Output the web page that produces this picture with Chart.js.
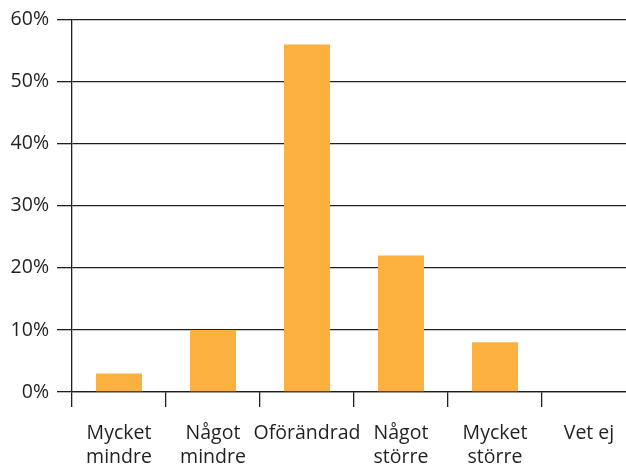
<!DOCTYPE html>
<html><head><meta charset="utf-8">
<script src="https://cdn.jsdelivr.net/npm/chart.js@4/dist/chart.umd.min.js"></script>
<style>
html,body{margin:0;padding:0;overflow:hidden;background:#fff;width:626px;height:464px}
#wrap{position:absolute;left:0;top:0;width:640px;height:464px}
</style></head>
<body><div id="wrap"><canvas id="c" width="640" height="464"></canvas></div>
<script>
const categories = [["Mycket","mindre"],["Något","mindre"],["Oförändrad"],["Något","större"],["Mycket","större"],["Vet ej"]];
const values = [3, 10, 56, 22, 8, 0];
const yTicks = [0, 10, 20, 30, 40, 50, 60];
const INK = '#231f20';
const XFONT = {family: "'Open Sans', 'Noto Sans', sans-serif", size: 19.5, lineHeight: 1.22};
const YFONT = {family: "'Open Sans', 'Noto Sans', sans-serif", size: 19.5};

new Chart(document.getElementById('c'), {
  type: 'bar',
  data: {labels: categories, datasets: [{data: values, backgroundColor: '#fbb040', borderWidth: 0, categoryPercentage: 1, barPercentage: 0.49}]},
  options: {
    responsive: false, animation: false,
    layout: {padding: {top: 18, right: 4, left: 0, bottom: 0}},
    plugins: {legend: {display: false}, tooltip: {enabled: false}},
    scales: {
      x: {
        grid: {offset: true, drawOnChartArea: false, color: INK, lineWidth: 1.3, tickLength: 15},
        border: {display: true, color: INK, width: 1.3},
        ticks: {color: INK, font: XFONT, padding: 15, maxRotation: 0, autoSkip: false},
        afterFit: s => { s.height = 72; }
      },
      y: {
        min: 0, max: 60,
        afterBuildTicks: s => { s.ticks = yTicks.map(v => ({value: v})); },
        grid: {color: INK, lineWidth: 1.3, tickLength: 15},
        border: {display: true, color: INK, width: 1.3},
        ticks: {color: INK, font: YFONT, padding: 8, callback: v => v + '%'},
        afterFit: s => { s.width = 72; }
      }
    }
  }
});
</script></body></html>
